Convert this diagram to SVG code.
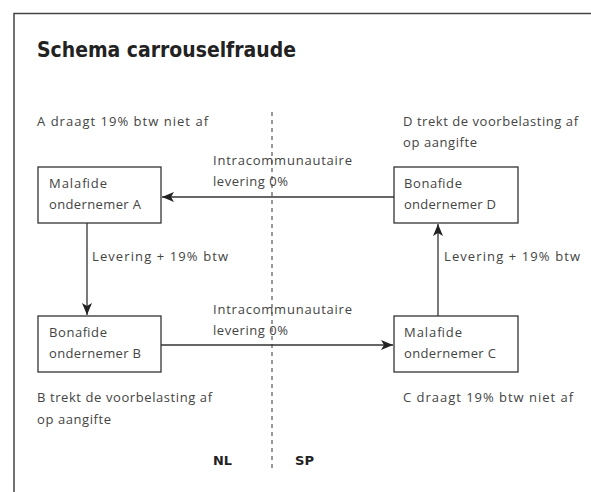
<svg xmlns="http://www.w3.org/2000/svg" width="591" height="492" viewBox="0 0 591 492">
<defs>
<marker id="ah" viewBox="0 0 12 10" refX="12" refY="5" markerWidth="12" markerHeight="10" markerUnits="userSpaceOnUse" orient="auto">
<path d="M0,0 L12,5 L0,10 L3,5 Z" fill="#222"/>
</marker>
</defs>
<style>
.t{font-family:"Open Sans","Liberation Sans",Arial,sans-serif;font-size:13px;fill:#444}
.b{font-family:"DejaVu Sans Condensed","DejaVu Sans",sans-serif;font-weight:bold;fill:#222}
.box{fill:#fff;stroke:#333;stroke-width:1.3}
.c{stroke:#333;stroke-width:1.3;fill:none}
</style>
<rect width="591" height="492" fill="#fff"/>
<path d="M14,492 V13.5 H591" fill="none" stroke="#444" stroke-width="1.5"/>
<text class="b" x="37" y="57" font-size="22" textLength="259" lengthAdjust="spacingAndGlyphs">Schema carrouselfraude</text>
<line x1="272" y1="112" x2="272" y2="470" stroke="#333" stroke-width="1" stroke-dasharray="4,4"/>
<text class="t" x="37" y="126" textLength="171">A draagt 19% btw niet af</text>
<text class="t" x="403" y="126" textLength="175">D trekt de voorbelasting af</text>
<text class="t" x="403" y="147" textLength="74">op aangifte</text>
<text class="t" x="37" y="402" textLength="175">B trekt de voorbelasting af</text>
<text class="t" x="37" y="424" textLength="74">op aangifte</text>
<text class="t" x="403" y="402" textLength="170">C draagt 19% btw niet af</text>
<g id="connectors">
<line class="c" x1="394" y1="197" x2="162" y2="197" marker-end="url(#ah)"/>
<line class="c" x1="87" y1="223" x2="87" y2="315" marker-end="url(#ah)"/>
<line class="c" x1="161" y1="345" x2="393" y2="345" marker-end="url(#ah)"/>
<line class="c" x1="438" y1="316" x2="438" y2="224" marker-end="url(#ah)"/>
<text class="t" x="213" y="165" textLength="139">Intracommunautaire</text>
<text class="t" x="213" y="186" textLength="75">levering 0%</text>
<text class="t" x="213" y="314" textLength="139">Intracommunautaire</text>
<text class="t" x="213" y="335" textLength="75">levering 0%</text>
<text class="t" x="92" y="261" textLength="136">Levering + 19% btw</text>
<text class="t" x="444" y="261" textLength="136">Levering + 19% btw</text>
</g>
<g id="nodeA">
<rect class="box" x="38" y="167" width="123" height="56"/>
<text class="t" x="49" y="188" textLength="58">Malafide</text>
<text class="t" x="49" y="209" textLength="92">ondernemer A</text>
</g>
<g id="nodeB">
<rect class="box" x="38" y="316" width="123" height="56"/>
<text class="t" x="49" y="337" textLength="58">Bonafide</text>
<text class="t" x="49" y="358" textLength="92">ondernemer B</text>
</g>
<g id="nodeC">
<rect class="box" x="394" y="316" width="124" height="56"/>
<text class="t" x="404" y="337" textLength="58">Malafide</text>
<text class="t" x="404" y="358" textLength="92">ondernemer C</text>
</g>
<g id="nodeD">
<rect class="box" x="394" y="167" width="124" height="56"/>
<text class="t" x="404" y="188" textLength="58">Bonafide</text>
<text class="t" x="404" y="209" textLength="92">ondernemer D</text>
</g>
<text class="b" x="213" y="465" font-size="13" textLength="19" lengthAdjust="spacingAndGlyphs">NL</text>
<text class="b" x="295" y="465" font-size="13" textLength="19" lengthAdjust="spacingAndGlyphs">SP</text>
</svg>
